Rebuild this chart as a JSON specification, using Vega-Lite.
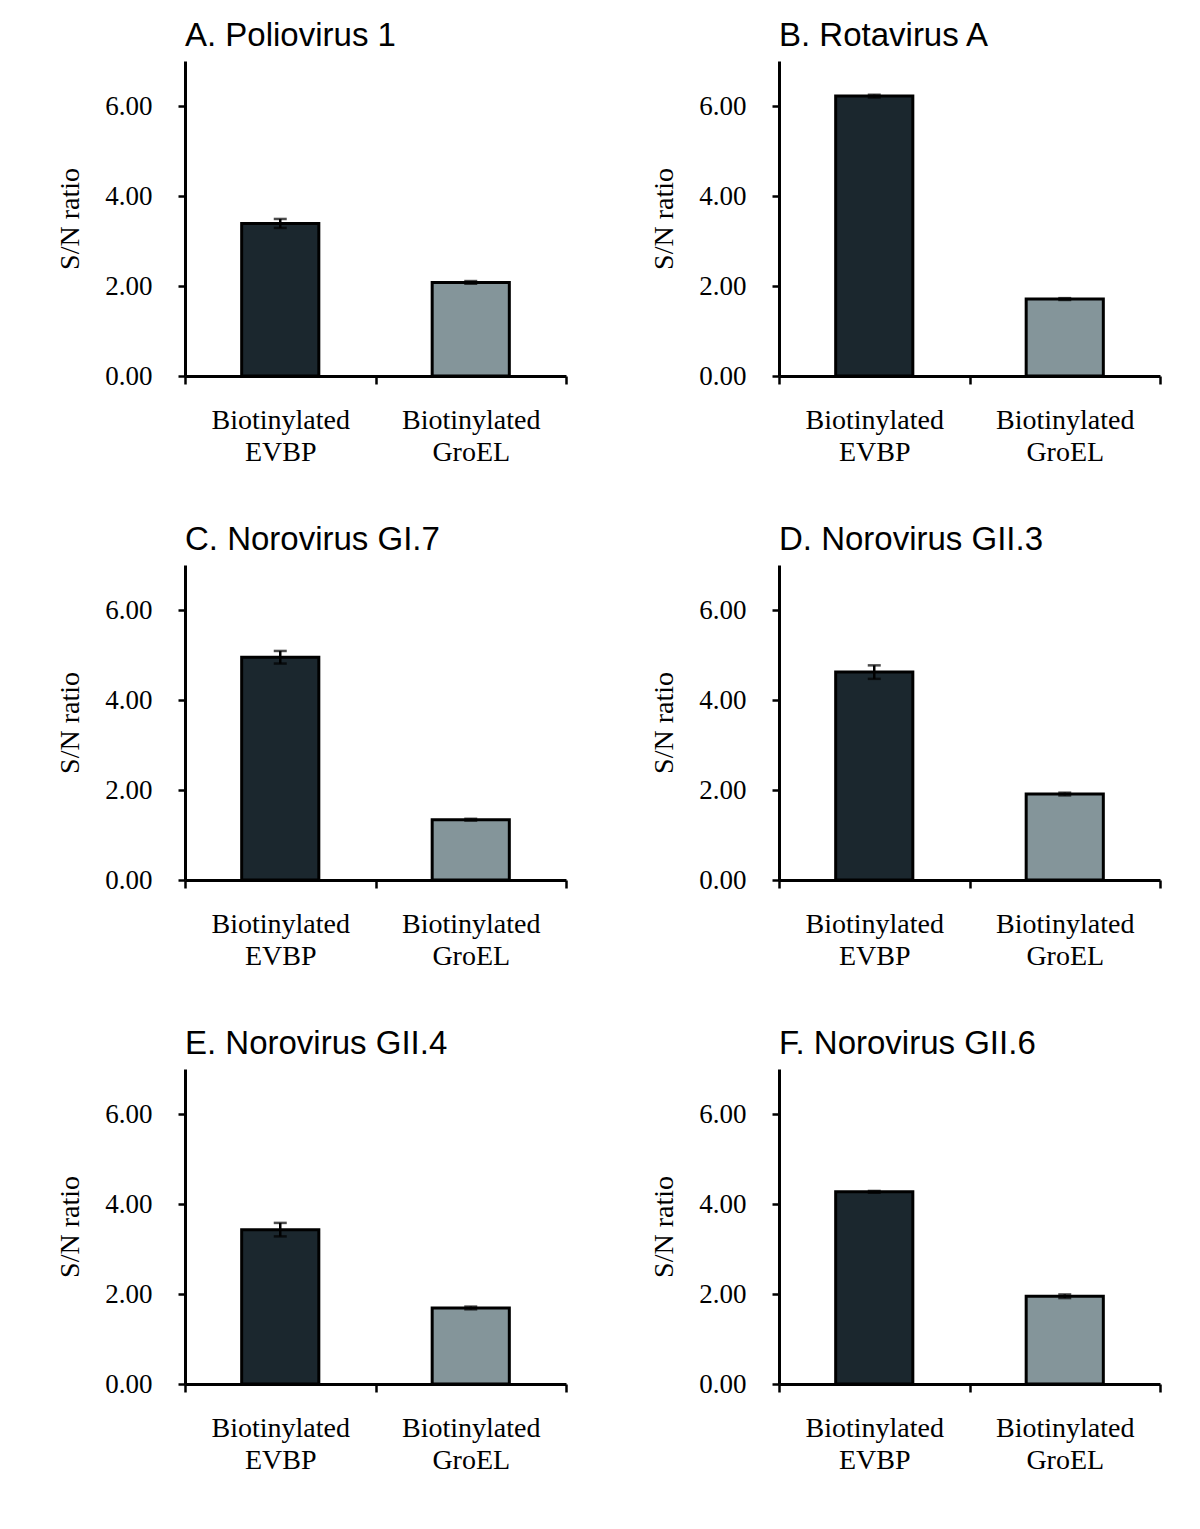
{
  "$schema": "https://vega.github.io/schema/vega-lite/v6.json",
  "padding": {"left": 56, "top": 20, "right": 10, "bottom": 10},
  "background": "white",
  "config": {"view": {"stroke": null}},
  "data": {"values": [
    {"panel": "A. Poliovirus 1", "probe": "Biotinylated EVBP", "value": 3.39, "err": 0.10},
    {"panel": "A. Poliovirus 1", "probe": "Biotinylated GroEL", "value": 2.08, "err": 0.03},
    {"panel": "B. Rotavirus A", "probe": "Biotinylated EVBP", "value": 6.22, "err": 0.03},
    {"panel": "B. Rotavirus A", "probe": "Biotinylated GroEL", "value": 1.71, "err": 0.02},
    {"panel": "C. Norovirus GI.7", "probe": "Biotinylated EVBP", "value": 4.95, "err": 0.14},
    {"panel": "C. Norovirus GI.7", "probe": "Biotinylated GroEL", "value": 1.34, "err": 0.02},
    {"panel": "D. Norovirus GII.3", "probe": "Biotinylated EVBP", "value": 4.62, "err": 0.15},
    {"panel": "D. Norovirus GII.3", "probe": "Biotinylated GroEL", "value": 1.91, "err": 0.03},
    {"panel": "E. Norovirus GII.4", "probe": "Biotinylated EVBP", "value": 3.43, "err": 0.15},
    {"panel": "E. Norovirus GII.4", "probe": "Biotinylated GroEL", "value": 1.69, "err": 0.03},
    {"panel": "F. Norovirus GII.6", "probe": "Biotinylated EVBP", "value": 4.27, "err": 0.02},
    {"panel": "F. Norovirus GII.6", "probe": "Biotinylated GroEL", "value": 1.95, "err": 0.04}
  ]},
  "facet": {
    "field": "panel", "type": "nominal",
    "header": {"title": null, "labelOrient": "top", "labelAnchor": "start", "labelFont": "Liberation Sans", "labelFontSize": 33, "labelColor": "black", "labelPadding": 8, "labelAlign": "left"}
  },
  "columns": 2,
  "spacing": {"column": 82, "row": 58},
  "resolve": {"axis": {"x": "independent", "y": "independent"}},
  "spec": {
    "width": 381,
    "height": 315,
    "encoding": {
      "x": {"field": "probe", "type": "nominal", "sort": null,
            "scale": {"paddingInner": 0, "paddingOuter": 0},
            "axis": {"title": null, "labelAngle": 0, "labelExpr": "split(datum.label, ' ')", "labelFont": "Liberation Serif", "labelFontSize": 28, "labelColor": "black", "labelLineHeight": 32, "labelPadding": 22, "tickBand": "extent", "tickSize": 8, "tickWidth": 2.5, "tickColor": "black", "domainColor": "black", "domainWidth": 3}},
      "y": {"field": "value", "type": "quantitative",
            "scale": {"domain": [0, 7], "nice": false},
            "axis": {"title": "S/N ratio", "values": [0, 2, 4, 6], "format": ".2f", "grid": false, "labelFont": "Liberation Serif", "labelFontSize": 27, "labelColor": "black", "labelPadding": 26, "tickSize": 7, "tickWidth": 2.5, "tickColor": "black", "domainColor": "black", "domainWidth": 3, "titleFont": "Liberation Serif", "titleFontSize": 28, "titleFontWeight": "normal", "titleColor": "black", "titlePadding": 20}}
    },
    "layer": [
      {
        "mark": {"type": "bar", "width": {"band": 0.405}, "stroke": "black", "strokeWidth": 3},
        "encoding": {
          "color": {"field": "probe", "type": "nominal", "legend": null,
                    "scale": {"range": ["#1b272e", "#84959a"]}}
        }
      },
      {
        "mark": {"type": "errorbar", "ticks": {"size": 13, "thickness": 2.5, "color": "black"}, "color": "black", "thickness": 2.5},
        "encoding": {
          "yError": {"field": "err"}
        }
      }
    ]
  }
}
